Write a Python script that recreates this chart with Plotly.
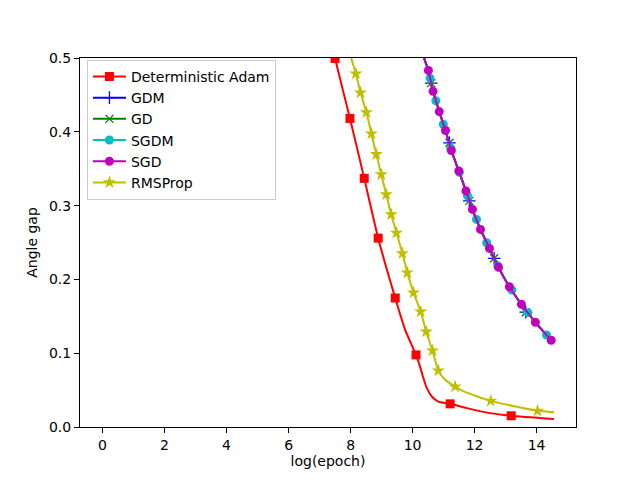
import plotly.graph_objects as go

# ---------------------------------------------------------------- data
# Deterministic Adam
adam_line_x = [7.2, 7.50, 7.98, 8.44, 8.89, 9.44, 9.76, 10.11, 10.24, 10.35, 10.46,
               10.62, 10.83, 11.21, 11.75, 12.5, 13.18, 14.56]
adam_line_y = [0.56, 0.4994, 0.4181, 0.3369, 0.2559, 0.1748, 0.1316, 0.0977, 0.0818,
               0.0661, 0.0526, 0.0413, 0.0345, 0.0314, 0.0256, 0.0188, 0.0152, 0.0107]
adam_mark_x = [7.50, 7.98, 8.44, 8.89, 9.44, 10.11, 11.21, 13.18]
adam_mark_y = [0.4994, 0.4181, 0.3369, 0.2559, 0.1748, 0.0977, 0.0314, 0.0152]

# RMSProp
rms_line_x = [7.85, 8.02, 8.17, 8.32, 8.51, 8.67, 8.83, 8.99, 9.15, 9.31, 9.48, 9.67,
              9.83, 10.03, 10.26, 10.44, 10.64, 10.83, 11.05, 11.37, 11.67, 12.52,
              14.03, 14.56]
rms_line_y = [0.53, 0.50, 0.4788, 0.4531, 0.4264, 0.3976, 0.3696, 0.3421, 0.3151,
              0.2880, 0.2631, 0.2353, 0.2090, 0.1820, 0.1563, 0.1292, 0.1035, 0.0764,
              0.0639, 0.0548, 0.048, 0.0354, 0.0219, 0.0201]
rms_mark_x = [8.17, 8.32, 8.51, 8.67, 8.83, 8.99, 9.15, 9.31, 9.48, 9.67, 9.83, 10.03,
              10.26, 10.44, 10.64, 10.83, 11.37, 12.52, 14.03]
rms_mark_y = [0.4788, 0.4531, 0.4264, 0.3976, 0.3696, 0.3421, 0.3151, 0.2880, 0.2631,
              0.2353, 0.2090, 0.1820, 0.1563, 0.1292, 0.1035, 0.0764, 0.0548, 0.0354,
              0.0219]

# GD / GDM / SGD / SGDM curves lie on top of each other
first_order_x = [10.30, 10.37, 10.51, 10.66, 10.86, 11.06, 11.25, 11.49, 11.72, 11.93,
                 12.19, 12.48, 12.77, 13.12, 13.51, 13.96, 14.47]
first_order_y = [0.515, 0.50, 0.4832, 0.4548, 0.4274, 0.4017, 0.3746, 0.3470, 0.3199,
                 0.2948, 0.2677, 0.2420, 0.2163, 0.1901, 0.1663, 0.1419, 0.1176]

sgd_mark_x = [10.51, 10.66, 10.86, 11.06, 11.25, 11.49, 11.72, 11.93, 12.19, 12.48,
              12.77, 13.12, 13.51, 13.96, 14.47]
sgd_mark_y = [0.4832, 0.4548, 0.4274, 0.4017, 0.3746, 0.3470, 0.3199, 0.2948, 0.2677,
              0.2420, 0.2163, 0.1901, 0.1663, 0.1419, 0.1176]

sgdm_mark_x = [10.56, 10.75, 10.99, 11.23, 11.51, 11.77, 12.06, 12.39, 12.75, 13.20,
               13.72, 14.32]
sgdm_mark_y = [0.4728, 0.4420, 0.4102, 0.3777, 0.3452, 0.3134, 0.2813, 0.2496, 0.2181,
               0.1856, 0.1549, 0.1247]

gd_mark_x = [10.60, 11.19, 11.83, 12.63, 13.65]
gd_mark_y = [0.4660, 0.3851, 0.3064, 0.2286, 0.1556]

x_ticks = [0, 2, 4, 6, 8, 10, 12, 14]
y_ticks = [0.0, 0.1, 0.2, 0.3, 0.4, 0.5]

# ---------------------------------------------------------------- series
series = [
    # name, colour, symbol, size, line xy, marker xy
    ("Deterministic Adam", "#ff0000", "square", 9, adam_line_x, adam_line_y, adam_mark_x, adam_mark_y),
    ("GDM", "#0000ff", "cross-thin", 9, first_order_x, first_order_y, gd_mark_x, gd_mark_y),
    ("GD", "#008000", "x-thin", 8, first_order_x, first_order_y, gd_mark_x, gd_mark_y),
    ("SGDM", "#00bfbf", "circle", 9, first_order_x, first_order_y, sgdm_mark_x, sgdm_mark_y),
    ("SGD", "#bf00bf", "circle", 9, first_order_x, first_order_y, sgd_mark_x, sgd_mark_y),
    ("RMSProp", "#bfbf00", "star", 10, rms_line_x, rms_line_y, rms_mark_x, rms_mark_y),
]

fig = go.Figure()
for name, color, symbol, size, lx, ly, mx, my in series:
    thin = symbol.endswith("-thin")
    marker = dict(symbol=symbol, size=size, color=color,
                  line=dict(width=1.3 if thin else 0, color=color))
    fig.add_trace(go.Scatter(x=lx, y=ly, mode="lines", showlegend=False,
                             line=dict(color=color, width=2, shape="spline", smoothing=0.5)))
    fig.add_trace(go.Scatter(x=mx, y=my, mode="markers", showlegend=False, marker=marker))
    # legend-only entry (line + marker sample)
    fig.add_trace(go.Scatter(x=[None], y=[None], mode="lines+markers", name=name,
                             line=dict(color=color, width=2), marker=marker))

axis_common = dict(showline=True, linecolor="black", linewidth=1, mirror=True,
                   ticks="outside", ticklen=5, tickcolor="black", showgrid=False,
                   zeroline=False, automargin=False,
                   tickfont=dict(size=14, color="black"))

# the page body adds an 8px offset, so the figure is drawn 8px smaller
fig.update_layout(
    width=632, height=472,
    margin=dict(l=72, r=64, t=50, b=53),
    paper_bgcolor="white", plot_bgcolor="white",
    font=dict(family="DejaVu Sans", size=14, color="black"),
    xaxis=dict(range=[-0.727, 15.27], tickvals=x_ticks,
               title=dict(text="log(epoch)", standoff=4, font=dict(size=14)), **axis_common),
    yaxis=dict(range=[0, 0.5], tickvals=y_ticks, tickformat=".1f",
               title=dict(text="Angle gap", standoff=8, font=dict(size=14)), **axis_common),
    legend=dict(x=0.014, y=0.995, xanchor="left", yanchor="top",
                bgcolor="rgba(255,255,255,0.8)", bordercolor="#cccccc", borderwidth=1,
                font=dict(size=14), tracegroupgap=0, itemwidth=33),
)

fig.write_html("out.html")
